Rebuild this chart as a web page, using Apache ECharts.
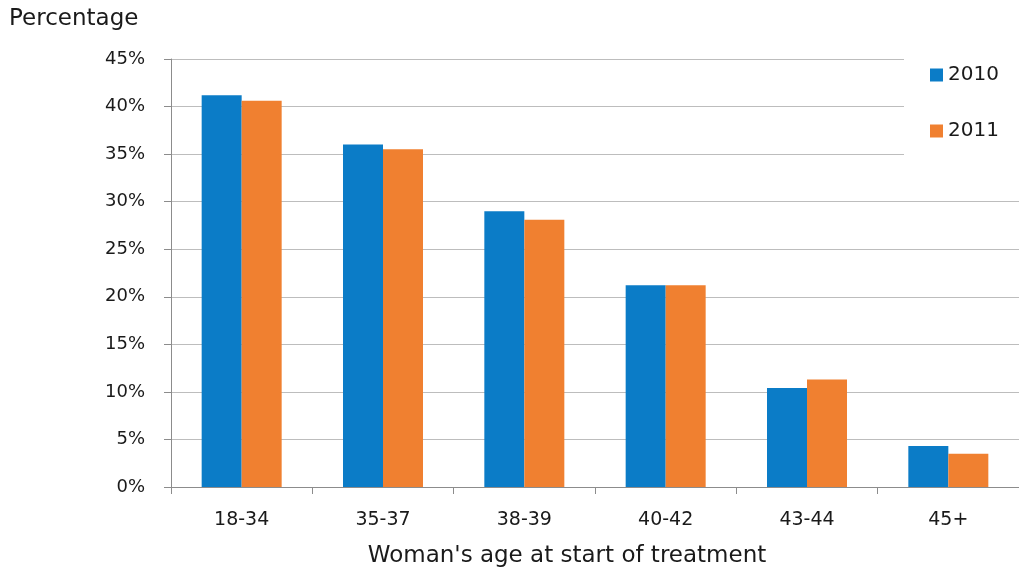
<!DOCTYPE html>
<html>
<head>
<meta charset="utf-8">
<script src="https://cdn.jsdelivr.net/npm/echarts@6/dist/echarts.min.js"></script>
<style>
  html, body { margin: 0; padding: 0; background: #fff; }
  #chart { width: 1019px; height: 573px; }
</style>
</head>
<body>
<div id="chart"></div>
<script>
// Age bands at the start of treatment
const ageBands = ['18-34', '35-37', '38-39', '40-42', '43-44', '45+'];
// Share of treatment cycles (%) by year
const share2010 = [41.2, 36.0, 29.0, 21.2, 10.4, 4.3];
const share2011 = [40.6, 35.5, 28.1, 21.2, 11.3, 3.5];
const seriesNames = ['2010', '2011'];

const FONT = 'DejaVu Sans';
const TEXT = '#1a1a1a';

const chart = echarts.init(document.getElementById('chart'), null, { renderer: 'canvas' });
chart.setOption({
  animation: false,
  backgroundColor: '#fff',
  textStyle: { fontFamily: FONT, color: TEXT },
  title: {
    text: 'Percentage',
    left: 4,
    top: 3,
    textStyle: { fontFamily: FONT, fontSize: 23, fontWeight: 'normal', color: TEXT }
  },
  // white panel behind the legend, blanking the upper grid lines there
  graphic: [{
    type: 'rect',
    z: 3,
    silent: true,
    shape: { x: 904, y: 50, width: 115, height: 125 },
    style: { fill: '#fff' }
  }],
  legend: {
    data: seriesNames,
    orient: 'vertical',
    left: 930,
    top: 65,
    itemWidth: 13,
    itemHeight: 13,
    itemGap: 36,
    padding: 0,
    z: 5,
    textStyle: { fontFamily: FONT, fontSize: 20, color: TEXT },
    icon: 'rect'
  },
  grid: { left: 171, top: 59, width: 852, bottom: 86, containLabel: false },
  xAxis: {
    type: 'category',
    data: ageBands,
    name: "Woman's age at start of treatment",
    nameLocation: 'middle',
    nameGap: 58,
    nameTextStyle: { fontFamily: FONT, fontSize: 23, color: TEXT, padding: [0, 56, 0, 0] },
    axisLine: { lineStyle: { color: '#8c8c8c', width: 1 } },
    axisTick: { show: true, length: 7, lineStyle: { color: '#8c8c8c' } },
    axisLabel: { margin: 24, fontFamily: FONT, fontSize: 19, color: TEXT }
  },
  yAxis: {
    type: 'value',
    min: 0,
    max: 45,
    interval: 5,
    axisLine: { show: true, lineStyle: { color: '#8c8c8c', width: 1 } },
    axisTick: { show: true, length: 7, lineStyle: { color: '#8c8c8c' } },
    axisLabel: { formatter: '{value}%', margin: 26, fontFamily: FONT, fontSize: 18, color: TEXT },
    splitLine: { lineStyle: { color: '#bdbdbd', width: 1 } }
  },
  series: [
    {
      name: seriesNames[0],
      type: 'bar',
      data: share2010,
      barWidth: 40,
      barGap: '0%',
      itemStyle: { color: '#0b7cc7' }
    },
    {
      name: seriesNames[1],
      type: 'bar',
      data: share2011,
      barWidth: 40,
      barGap: '0%',
      itemStyle: { color: '#f08030' }
    }
  ]
});
</script>
</body>
</html>
